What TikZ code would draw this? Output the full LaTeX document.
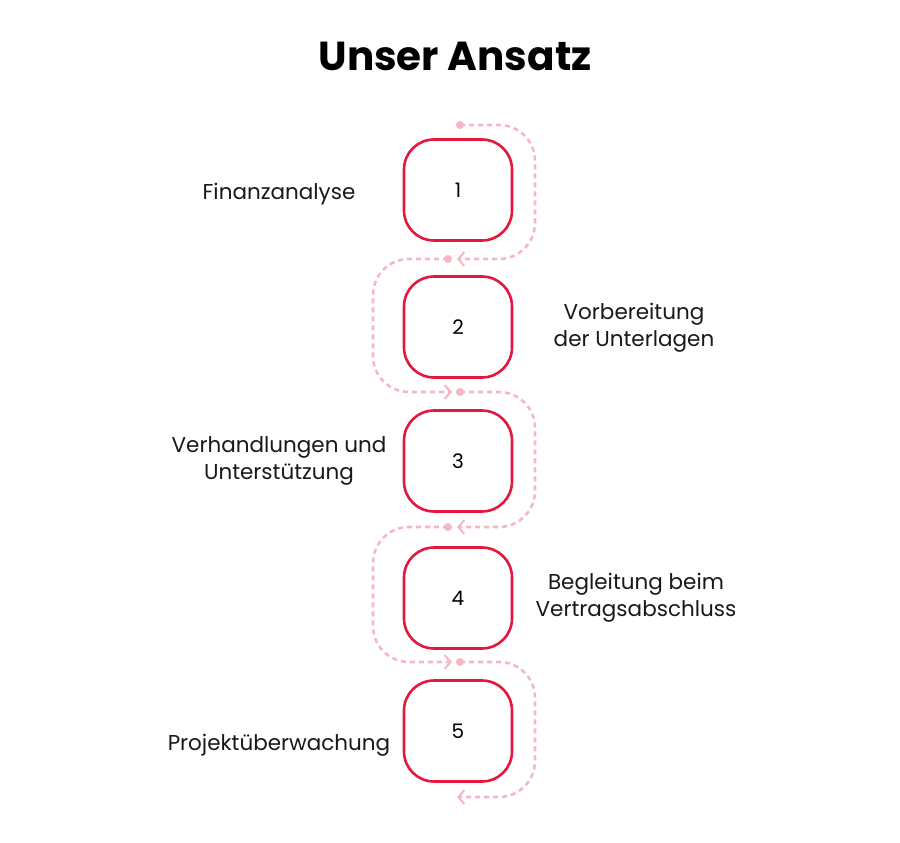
\documentclass[tikz,border=0pt]{standalone}
\usepackage{fontspec}
\setmainfont{Poppins}
\usetikzlibrary{arrows.meta}
\definecolor{boxred}{HTML}{E2183D}
\definecolor{flowpink}{HTML}{F6B7C3}
\tikzset{
  stepbox/.style={draw=boxred, line width=2.6pt, rounded corners=30pt, minimum width=108pt, minimum height=101pt, fill=white, font=\fontsize{20}{24}\selectfont},
  lbl/.style={align=center, font=\fontsize{21.5}{27}\selectfont, text=black!90},
  flow/.style={draw=flowpink, line width=2.6pt, dash pattern=on 5pt off 4pt, rounded corners=36pt, -{Straight Barb[length=6pt,width=14pt,line width=2pt]}},
  flowdot/.style={circle, fill=flowpink, inner sep=0pt, minimum size=8pt},
}
\begin{document}
\begin{tikzpicture}[x=1pt,y=-1pt]
\useasboundingbox (0,0) rectangle (900,843);
\fill[white] (0,0) rectangle (900,843);
\node[font=\fontsize{40.5}{46}\selectfont\bfseries] (title) at (455,56) {Unser Ansatz};
% boxes
\node[stepbox] (b1) at (458,190) {1};
\node[stepbox] (b2) at (458,327) {2};
\node[stepbox] (b3) at (458,461) {3};
\node[stepbox] (b4) at (458,598) {4};
\node[stepbox] (b5) at (458,731) {5};
% labels
\node[lbl] (l1) at (279,194) {Finanzanalyse};
\node[lbl] (l2) at (634,328) {Vorbereitung\\der Unterlagen};
\node[lbl] (l3) at (279,461) {Verhandlungen und\\Unterstützung};
\node[lbl] (l4) at (636,598) {Begleitung beim\\Vertragsabschluss};
\node[lbl] (l5) at (279,745) {Projektüberwachung};
% flow points
\node[flowdot] (d1) at (460,125) {};
\node[flowdot] (d2) at (448,259) {};
\node[flowdot] (d3) at (460,392) {};
\node[flowdot] (d4) at (448,527) {};
\node[flowdot] (d5) at (460,662) {};
\coordinate (a1) at (457,259);
\coordinate (a2) at (452,392);
\coordinate (a3) at (457,527);
\coordinate (a4) at (452,662);
\coordinate (a5) at (457,797);
\draw[flow] (d1.center) -- (535,125) -- (535,259) -- (a1);
\draw[flow] (d2.center) -- (373,259) -- (373,392) -- (a2);
\draw[flow] (d3.center) -- (535,392) -- (535,527) -- (a3);
\draw[flow] (d4.center) -- (373,527) -- (373,662) -- (a4);
\draw[flow] (d5.center) -- (535,662) -- (535,797) -- (a5);
\end{tikzpicture}
\end{document}
